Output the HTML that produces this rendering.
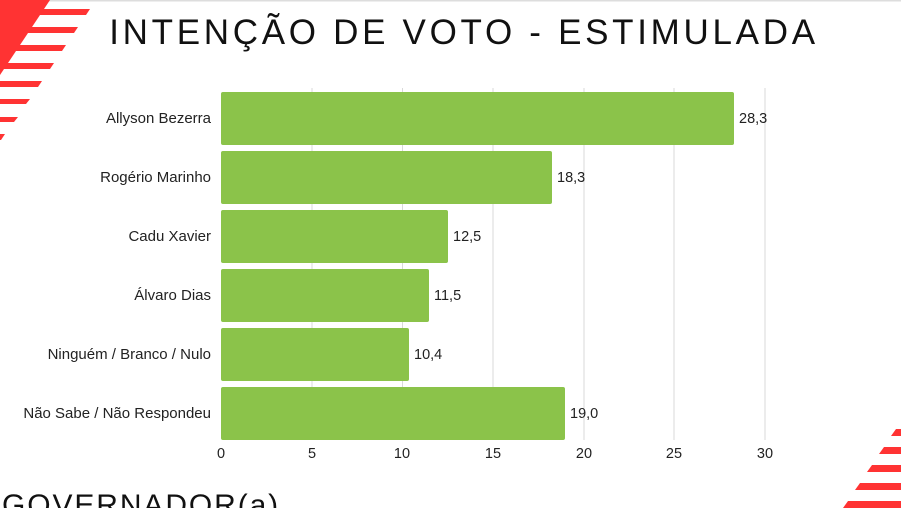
<!DOCTYPE html>
<html><head><meta charset="utf-8"><style>
html,body{margin:0;padding:0;background:#fff;}
body{width:901px;height:508px;overflow:hidden;position:relative;font-family:"Liberation Sans",sans-serif;}
</style></head><body>
<svg width="901" height="508" style="position:absolute;left:0;top:0">
<rect x="0" y="0" width="901" height="1.5" fill="#ddd"/>
<g fill="#ff3333">
<polygon points="0,0 50,0 0,75"/>
<polygon points="0,9 90,9 86,15 0,15"/>
<polygon points="0,27 78,27 74,33 0,33"/>
<polygon points="0,45 66,45 62,51 0,51"/>
<polygon points="0,63 54,63 50,69 0,69"/>
<polygon points="0,81 42,81 38,87 0,87"/>
<polygon points="0,99 30,99 26,104 0,104"/>
<polygon points="0,117 18,117 14,122 0,122"/>
<polygon points="0,134 5,134 1,140 0,140"/>
<polygon points="896,429 901,429 901,436 891,436"/>
<polygon points="884,447 901,447 901,454 879,454"/>
<polygon points="872,465 901,465 901,472 867,472"/>
<polygon points="860,483 901,483 901,490 855,490"/>
<polygon points="848,501 901,501 901,508 843,508"/>
</g>
<g stroke="#d9d9d9" stroke-width="1">
<line x1="312" y1="88" x2="312" y2="440"/>
<line x1="402.5" y1="88" x2="402.5" y2="440"/>
<line x1="493" y1="88" x2="493" y2="440"/>
<line x1="584" y1="88" x2="584" y2="440"/>
<line x1="674" y1="88" x2="674" y2="440"/>
<line x1="765" y1="88" x2="765" y2="440"/>
</g>
<g fill="#8bc34a">
<rect x="221" y="92" width="513" height="53" rx="2"/>
<rect x="221" y="151" width="331" height="53" rx="2"/>
<rect x="221" y="210" width="227" height="53" rx="2"/>
<rect x="221" y="269" width="208" height="53" rx="2"/>
<rect x="221" y="328" width="188" height="53" rx="2"/>
<rect x="221" y="387" width="344" height="53" rx="2"/>
</g>
<g font-family="Liberation Sans, sans-serif" font-size="14.5" fill="#222">
<g text-anchor="end" font-size="15">
<text x="211" y="123">Allyson Bezerra</text>
<text x="211" y="182">Rogério Marinho</text>
<text x="211" y="241">Cadu Xavier</text>
<text x="211" y="300">Álvaro Dias</text>
<text x="211" y="359">Ninguém / Branco / Nulo</text>
<text x="211" y="418">Não Sabe / Não Respondeu</text>
</g>
<text x="739" y="123">28,3</text>
<text x="557" y="182">18,3</text>
<text x="453" y="241">12,5</text>
<text x="434" y="300">11,5</text>
<text x="414" y="359">10,4</text>
<text x="570" y="418">19,0</text>
<g text-anchor="middle">
<text x="221" y="458">0</text><text x="312" y="458">5</text><text x="402" y="458">10</text>
<text x="493" y="458">15</text><text x="584" y="458">20</text><text x="674" y="458">25</text><text x="765" y="458">30</text>
</g>
</g>
<text x="464" y="44" text-anchor="middle" font-family="Liberation Sans, sans-serif" font-size="35" letter-spacing="3.7" fill="#111">INTENÇÃO DE VOTO - ESTIMULADA</text>
<text x="2" y="515" font-family="Liberation Sans, sans-serif" font-size="30" letter-spacing="1.9" fill="#111">GOVERNADOR(a)</text>
</svg>
</body></html>
